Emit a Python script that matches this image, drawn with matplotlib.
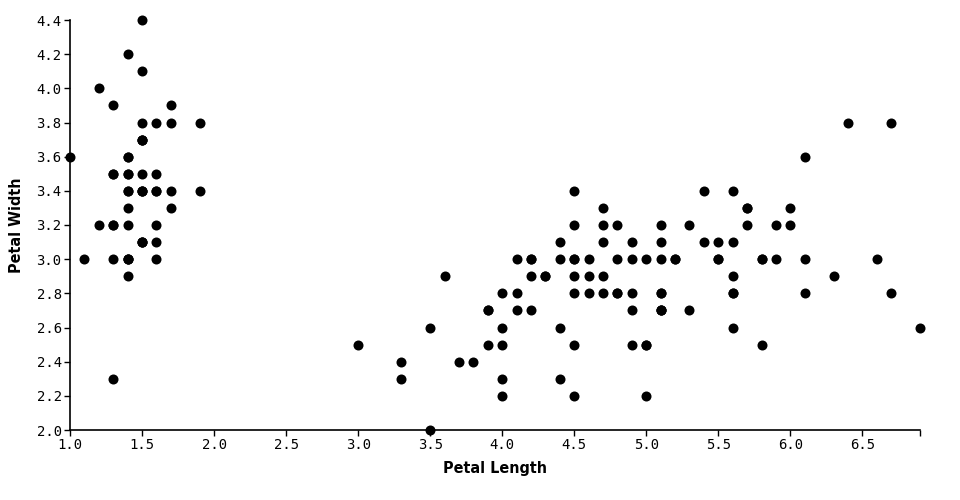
import matplotlib.pyplot as plt

# petal length / width values, grouped by cluster
setosa_x = [1.4, 1.4, 1.3, 1.5, 1.4, 1.7, 1.4, 1.5, 1.4, 1.5, 1.5, 1.6, 1.4, 1.1, 1.2, 1.5, 1.3,
            1.4, 1.7, 1.5, 1.7, 1.5, 1.0, 1.7, 1.9, 1.6, 1.6, 1.5, 1.4, 1.6, 1.6, 1.5, 1.5, 1.4,
            1.5, 1.2, 1.3, 1.4, 1.3, 1.5, 1.3, 1.3, 1.3, 1.6, 1.9, 1.4, 1.6, 1.4, 1.5, 1.4]
setosa_y = [3.5, 3.0, 3.2, 3.1, 3.6, 3.9, 3.4, 3.4, 2.9, 3.1, 3.7, 3.4, 3.0, 3.0, 4.0, 4.4, 3.9,
            3.5, 3.8, 3.8, 3.4, 3.7, 3.6, 3.3, 3.4, 3.0, 3.4, 3.5, 3.4, 3.2, 3.1, 3.4, 4.1, 4.2,
            3.1, 3.2, 3.5, 3.6, 3.0, 3.4, 3.5, 2.3, 3.2, 3.5, 3.8, 3.0, 3.8, 3.2, 3.7, 3.3]

versicolor_x = [4.7, 4.5, 4.9, 4.0, 4.6, 4.5, 4.7, 3.3, 4.6, 3.9, 3.5, 4.2, 4.0, 4.7, 3.6, 4.4,
                4.5, 4.1, 4.5, 3.9, 4.8, 4.0, 4.9, 4.7, 4.3, 4.4, 4.8, 5.0, 4.5, 3.5, 3.8, 3.7,
                3.9, 5.1, 4.5, 4.5, 4.7, 4.4, 4.1, 4.0, 4.4, 4.6, 4.0, 3.3, 4.2, 4.2, 4.2, 4.3,
                3.0, 4.1]
versicolor_y = [3.2, 3.2, 3.1, 2.3, 2.8, 2.8, 3.3, 2.4, 2.9, 2.7, 2.0, 3.0, 2.2, 2.9, 2.9, 3.1,
                3.0, 2.7, 2.2, 2.5, 3.2, 2.8, 2.5, 2.8, 2.9, 3.0, 2.8, 3.0, 2.9, 2.6, 2.4, 2.4,
                2.7, 2.7, 3.0, 3.4, 3.1, 2.3, 3.0, 2.5, 2.6, 3.0, 2.6, 2.3, 2.7, 3.0, 2.9, 2.9,
                2.5, 2.8]

virginica_x = [6.0, 5.1, 5.9, 5.6, 5.8, 6.6, 4.5, 6.3, 5.8, 6.1, 5.1, 5.3, 5.5, 5.0, 5.1, 5.3,
               5.5, 6.7, 6.9, 5.0, 5.7, 4.9, 6.7, 4.9, 5.7, 6.0, 4.8, 4.9, 5.6, 5.8, 6.1, 6.4,
               5.6, 5.1, 5.6, 6.1, 5.6, 5.5, 4.8, 5.4, 5.6, 5.1, 5.1, 5.9, 5.7, 5.2, 5.0, 5.2,
               5.4, 5.1]
virginica_y = [3.3, 2.7, 3.0, 2.9, 3.0, 3.0, 2.5, 2.9, 2.5, 3.6, 3.2, 2.7, 3.0, 2.5, 2.8, 3.2,
               3.0, 3.8, 2.6, 2.2, 3.2, 2.8, 2.8, 2.7, 3.3, 3.2, 2.8, 3.0, 2.8, 3.0, 2.8, 3.8,
               2.8, 2.8, 2.6, 3.0, 3.4, 3.1, 3.0, 3.1, 3.1, 3.1, 2.7, 3.2, 3.3, 3.0, 2.5, 3.0,
               3.4, 3.0]

x_ticks = [1.0, 1.5, 2.0, 2.5, 3.0, 3.5, 4.0, 4.5, 5.0, 5.5, 6.0, 6.5]
y_ticks = [2.0, 2.2, 2.4, 2.6, 2.8, 3.0, 3.2, 3.4, 3.6, 3.8, 4.0, 4.2, 4.4]

fig = plt.figure(figsize=(9.6, 5), dpi=100)
ax = fig.add_axes([70 / 960, 70 / 500, 850 / 960, 410 / 500])

for xs, ys in [(setosa_x, setosa_y), (versicolor_x, versicolor_y), (virginica_x, virginica_y)]:
    ax.scatter(xs, ys, s=52, color='black', linewidths=0, clip_on=False, zorder=3)

ax.set_xlim(1.0, 6.9)
ax.set_ylim(2.0, 4.4)
ax.set_xticks(x_ticks + [6.9])
ax.set_xticklabels(['%.1f' % t for t in x_ticks] + [''])
ax.set_yticks(y_ticks)
ax.set_yticklabels(['%.1f' % t for t in y_ticks])

for s in ['top', 'right']:
    ax.spines[s].set_visible(False)
for s in ['left', 'bottom']:
    ax.spines[s].set_linewidth(1.2)

ax.tick_params(length=4, width=1, pad=2, labelsize=10)
for lab in ax.get_xticklabels() + ax.get_yticklabels():
    lab.set_family('DejaVu Sans Mono')

title_font = dict(family=['DejaVu Sans Condensed', 'Liberation Sans Narrow', 'DejaVu Sans'],
                  fontweight='bold', fontstretch='condensed', fontsize=11.5)
ax.set_xlabel('Petal Length', labelpad=6, **title_font)
ax.set_ylabel('Petal Width', labelpad=9, **title_font)

fig.savefig('out.png', dpi=100)
